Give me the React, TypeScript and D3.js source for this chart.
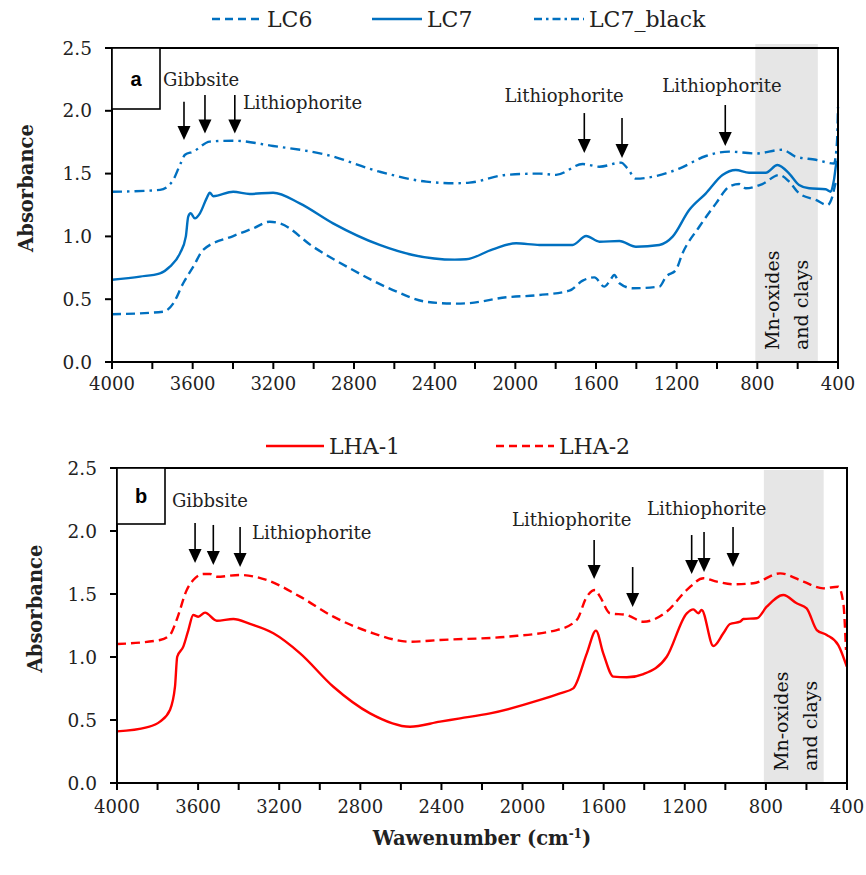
import React from "react";
import * as d3 from "d3";

type Pt = [number, number];

// ---------- data (wavenumber cm-1, absorbance) ----------
const lc6: Pt[] = [
  [4000, 0.38], [3746, 0.40], [3696, 0.467], [3647, 0.627], [3597, 0.759], [3548, 0.892],
  [3399, 1.003], [3300, 1.064], [3218, 1.117], [3168, 1.104], [3003, 0.918], [2805, 0.732],
  [2607, 0.573], [2442, 0.48], [2300, 0.465], [2244, 0.467], [2045, 0.515], [1880, 0.533],
  [1732, 0.568], [1666, 0.648], [1608, 0.674], [1559, 0.60], [1534, 0.64], [1509, 0.693],
  [1484, 0.627], [1418, 0.587], [1286, 0.60], [1253, 0.679], [1204, 0.732], [1171, 0.865],
  [1088, 1.077], [1005, 1.263], [940, 1.396], [890, 1.417], [857, 1.383], [775, 1.417],
  [692, 1.489], [642, 1.436], [593, 1.343], [510, 1.29], [452, 1.25], [428, 1.316],
  [412, 1.423], [400, 1.45],
];
const lc7: Pt[] = [
  [4000, 0.655], [3861, 0.68], [3762, 0.706], [3713, 0.759], [3663, 0.865], [3634, 0.998],
  [3622, 1.157], [3610, 1.184], [3589, 1.144], [3564, 1.184], [3531, 1.303], [3515, 1.348],
  [3498, 1.32], [3399, 1.356], [3317, 1.338], [3201, 1.348], [3069, 1.263], [2904, 1.104],
  [2673, 0.932], [2508, 0.852], [2300, 0.815], [2244, 0.818], [2112, 0.897], [1996, 0.945],
  [1880, 0.932], [1716, 0.932], [1649, 1.003], [1583, 0.958], [1484, 0.963], [1402, 0.918],
  [1286, 0.932], [1220, 0.998], [1138, 1.21], [1055, 1.343], [973, 1.489], [907, 1.529],
  [841, 1.507], [758, 1.507], [700, 1.568], [642, 1.50], [593, 1.41], [543, 1.383],
  [461, 1.375], [436, 1.356], [420, 1.45], [406, 1.595], [400, 1.6],
];
const lc7Black: Pt[] = [
  [4000, 1.355], [3762, 1.37], [3700, 1.44], [3660, 1.58], [3638, 1.65], [3597, 1.675],
  [3515, 1.755], [3399, 1.762], [3201, 1.72], [2937, 1.65], [2673, 1.515], [2442, 1.436],
  [2300, 1.423], [2227, 1.428], [2045, 1.49], [1880, 1.50], [1798, 1.49], [1666, 1.576],
  [1583, 1.555], [1476, 1.587], [1443, 1.54], [1402, 1.46], [1303, 1.48], [1187, 1.54],
  [1055, 1.64], [940, 1.675], [808, 1.66], [676, 1.69], [610, 1.635], [510, 1.61],
  [420, 1.58], [405, 1.75], [400, 2.03],
];
const lha1: Pt[] = [
  [4000, 0.41], [3854, 0.442], [3788, 0.487], [3739, 0.579], [3714, 0.764], [3703, 1.002],
  [3673, 1.082], [3648, 1.214], [3624, 1.333], [3599, 1.32], [3566, 1.352], [3508, 1.288],
  [3426, 1.302], [3344, 1.262], [3229, 1.188], [3097, 1.029], [2933, 0.764], [2752, 0.553],
  [2555, 0.447], [2407, 0.487], [2308, 0.513], [2160, 0.553], [1914, 0.659], [1815, 0.712],
  [1750, 0.751], [1683, 1.029], [1638, 1.209], [1602, 1.029], [1552, 0.844], [1486, 0.839],
  [1404, 0.865], [1289, 1.002], [1190, 1.347], [1158, 1.378], [1133, 1.347], [1117, 1.373],
  [1059, 1.087], [1010, 1.188], [977, 1.262], [927, 1.28], [911, 1.302], [845, 1.307],
  [796, 1.399], [714, 1.492], [648, 1.426], [599, 1.386], [549, 1.214], [500, 1.175],
  [443, 1.095], [401, 0.923],
];
const lha2: Pt[] = [
  [4000, 1.103], [3788, 1.135], [3739, 1.175], [3706, 1.294], [3656, 1.532], [3624, 1.611],
  [3574, 1.659], [3541, 1.659], [3508, 1.637], [3393, 1.651], [3262, 1.611], [3097, 1.479],
  [2933, 1.32], [2736, 1.188], [2555, 1.121], [2407, 1.135], [2078, 1.161], [1831, 1.214],
  [1733, 1.294], [1683, 1.479], [1642, 1.532], [1618, 1.479], [1569, 1.347], [1486, 1.333],
  [1404, 1.28], [1289, 1.36], [1190, 1.532], [1108, 1.625], [1042, 1.598], [960, 1.577],
  [862, 1.585], [730, 1.664], [615, 1.598], [517, 1.545], [443, 1.558], [418, 1.426],
  [405, 1.056],
];

const xTickLabels = [4000, 3600, 3200, 2800, 2400, 2000, 1600, 1200, 800, 400];
const xMinorTicks = d3.range(4000, 399, -200);
const yTickLabels = [0, 0.5, 1.0, 1.5, 2.0, 2.5];

// arrows: [wavenumber, top absorbance, tip absorbance]
const arrowsA: [number, number, number][] = [
  [3643, 2.072, 1.767], [3539, 2.126, 1.82], [3391, 2.126, 1.82],
  [1658, 1.982, 1.664], [1471, 1.943, 1.624], [959, 2.046, 1.72],
];
const arrowsB: [number, number, number][] = [
  [3615, 2.063, 1.746], [3525, 2.048, 1.73], [3393, 2.032, 1.714],
  [1647, 1.929, 1.619], [1457, 1.714, 1.397],
  [1166, 1.968, 1.659], [1105, 1.992, 1.675], [962, 2.032, 1.714],
];
// notes: [text, wavenumber (left), absorbance (baseline)]
const notesA: [string, number, number][] = [
  ["Gibbsite", 3747, 2.197], ["Lithiophorite", 3351, 2.014],
  ["Lithiophorite", 2054, 2.07], ["Lithiophorite", 1271, 2.15],
];
const notesB: [string, number, number][] = [
  ["Gibbsite", 3729, 2.19], ["Lithiophorite", 3334, 1.937],
  ["Lithiophorite", 2052, 2.04], ["Lithiophorite", 1386, 2.127],
];
const shadeA: [number, number] = [810, 500];
const shadeB: [number, number] = [810, 515];

const BLUE = "#0070C0";
const RED = "#FF0000";
const SERIF = "'DejaVu Serif', serif";

type Series = { data: Pt[]; color: string; dash?: string; legendDash?: string; name: string };

const seriesA: Series[] = [
  { name: "LC6", data: lc6, color: BLUE, dash: "9,5", legendDash: "8,5" },
  { name: "LC7", data: lc7, color: BLUE },
  { name: "LC7_black", data: lc7Black, color: BLUE, dash: "10,5,2.5,5", legendDash: "8,4,2.5,4" },
];
const seriesB: Series[] = [
  { name: "LHA-1", data: lha1, color: RED },
  { name: "LHA-2", data: lha2, color: RED, dash: "9,5", legendDash: "8,5" },
];

type PanelProps = {
  left: number; right: number; top: number; bottom: number;
  series: Series[]; shade: [number, number]; shadeTopPad: number;
  arrows: [number, number, number][]; notes: [string, number, number][];
  letter: string; letterBoxH: number; titleX: number; tickLabelY: number;
  legendY: number; legendX: number[]; legendLen: number;
};

function Panel(p: PanelProps) {
  const x = d3.scaleLinear().domain([4000, 400]).range([p.left, p.right]);
  const y = d3.scaleLinear().domain([0, 2.5]).range([p.bottom, p.top]);
  const line = d3
    .line<Pt>()
    .x((d) => x(d[0]))
    .y((d) => y(d[1]))
    .curve(d3.curveMonotoneX);
  const midY = (p.top + p.bottom) / 2;
  return (
    <g>
      {/* shaded region */}
      <rect
        x={x(p.shade[0])}
        y={p.top - p.shadeTopPad}
        width={x(p.shade[1]) - x(p.shade[0])}
        height={p.bottom - p.top + p.shadeTopPad}
        fill="#e6e6e6"
      />
      <text
        transform={`translate(${x(p.shade[0]) + 24},${p.bottom - 12}) rotate(-90)`}
        fontFamily={SERIF}
        fontSize={19}
        fill="#111"
      >
        Mn-oxides
      </text>
      <text
        transform={`translate(${x(p.shade[0]) + 53},${p.bottom - 12}) rotate(-90)`}
        fontFamily={SERIF}
        fontSize={19}
        fill="#111"
      >
        and clays
      </text>
      {/* series */}
      {p.series.map((s) => (
        <path
          key={s.name}
          d={line(s.data) ?? ""}
          fill="none"
          stroke={s.color}
          strokeWidth={2.4}
          strokeDasharray={s.dash}
        />
      ))}
      {/* frame */}
      <rect
        x={p.left}
        y={p.top}
        width={p.right - p.left}
        height={p.bottom - p.top}
        fill="none"
        stroke="#000"
        strokeWidth={2}
      />
      {/* letter box */}
      <rect
        x={p.left}
        y={p.top}
        width={48}
        height={p.letterBoxH}
        fill="#fff"
        stroke="#000"
        strokeWidth={1.6}
      />
      <text
        x={p.left + 24}
        y={p.top + p.letterBoxH / 2 + 7}
        textAnchor="middle"
        fontFamily="'Liberation Sans', Arial, sans-serif"
        fontWeight="bold"
        fontSize={20}
      >
        {p.letter}
      </text>
      {/* y axis ticks */}
      {yTickLabels.map((v) => (
        <g key={v}>
          <line x1={p.left - 7} x2={p.left} y1={y(v)} y2={y(v)} stroke="#000" strokeWidth={2} />
          <text
            x={p.left - 20}
            y={y(v) + 6.5}
            textAnchor="end"
            fontFamily={SERIF}
            fontSize={18.5}
            fill="#222"
          >
            {v.toFixed(1)}
          </text>
        </g>
      ))}
      {/* x axis ticks */}
      {xMinorTicks.map((v) => (
        <line
          key={v}
          x1={x(v)}
          x2={x(v)}
          y1={p.bottom}
          y2={p.bottom + 7}
          stroke="#000"
          strokeWidth={2}
        />
      ))}
      {xTickLabels.map((v) => (
        <text
          key={v}
          x={x(v)}
          y={p.tickLabelY}
          textAnchor="middle"
          fontFamily={SERIF}
          fontSize={18}
          fill="#222"
        >
          {v}
        </text>
      ))}
      {/* y title */}
      <text
        transform={`translate(${p.titleX},${midY - 17}) rotate(-90)`}
        textAnchor="middle"
        fontFamily={SERIF}
        fontWeight="bold"
        fontSize={19.5}
        fill="#222"
      >
        Absorbance
      </text>
      {/* arrows */}
      {p.arrows.map(([w, a0, a1], i) => {
        const ax = x(w);
        const yt = y(a0);
        const yb = y(a1);
        return (
          <g key={i}>
            <line x1={ax} x2={ax} y1={yt} y2={yb - 12} stroke="#000" strokeWidth={1.6} />
            <path d={`M${ax - 6.5},${yb - 14} L${ax + 6.5},${yb - 14} L${ax},${yb} Z`} fill="#000" />
          </g>
        );
      })}
      {p.notes.map(([t, w, a], i) => (
        <text key={i} x={x(w)} y={y(a)} fontFamily={SERIF} fontSize={18} fill="#222">
          {t}
        </text>
      ))}
      {/* legend */}
      {p.series.map((s, i) => (
        <g key={s.name}>
          <line
            x1={p.legendX[i]}
            x2={p.legendX[i] + p.legendLen}
            y1={p.legendY}
            y2={p.legendY}
            stroke={s.color}
            strokeWidth={2.4}
            strokeDasharray={s.legendDash}
          />
          <text
            x={p.legendX[i] + p.legendLen + 5}
            y={p.legendY + 8}
            fontFamily={SERIF}
            fontSize={22}
            fill="#222"
          >
            {s.name}
          </text>
        </g>
      ))}
    </g>
  );
}

export default function App() {
  return (
    <svg
      width={866}
      height={875}
      viewBox="0 0 866 875"
      style={{ position: "absolute", left: 0, top: 0, background: "#fff" }}
    >
      <rect width={866} height={875} fill="#fff" />
      <Panel
        left={112}
        right={838}
        top={48}
        bottom={362}
        series={seriesA}
        shade={shadeA}
        shadeTopPad={4}
        arrows={arrowsA}
        notes={notesA}
        letter="a"
        letterBoxH={61}
        titleX={33}
        tickLabelY={390}
        legendY={19}
        legendX={[212, 372, 534]}
        legendLen={50}
        />
      <Panel
        left={117}
        right={847}
        top={468}
        bottom={783}
        series={seriesB}
        shade={shadeB}
        shadeTopPad={-2}
        arrows={arrowsB}
        notes={notesB}
        letter="b"
        letterBoxH={56}
        titleX={42}
        tickLabelY={813}
        legendY={446}
        legendX={[266, 496]}
        legendLen={58}
      />
      <text
        x={482}
        y={845}
        textAnchor="middle"
        fontFamily={SERIF}
        fontWeight="bold"
        fontSize={19.5}
        fill="#222"
      >
        Wawenumber (cm
        <tspan dy={-7} fontSize={12}>-1</tspan>
        <tspan dy={7}>)</tspan>
      </text>
    </svg>
  );
}
